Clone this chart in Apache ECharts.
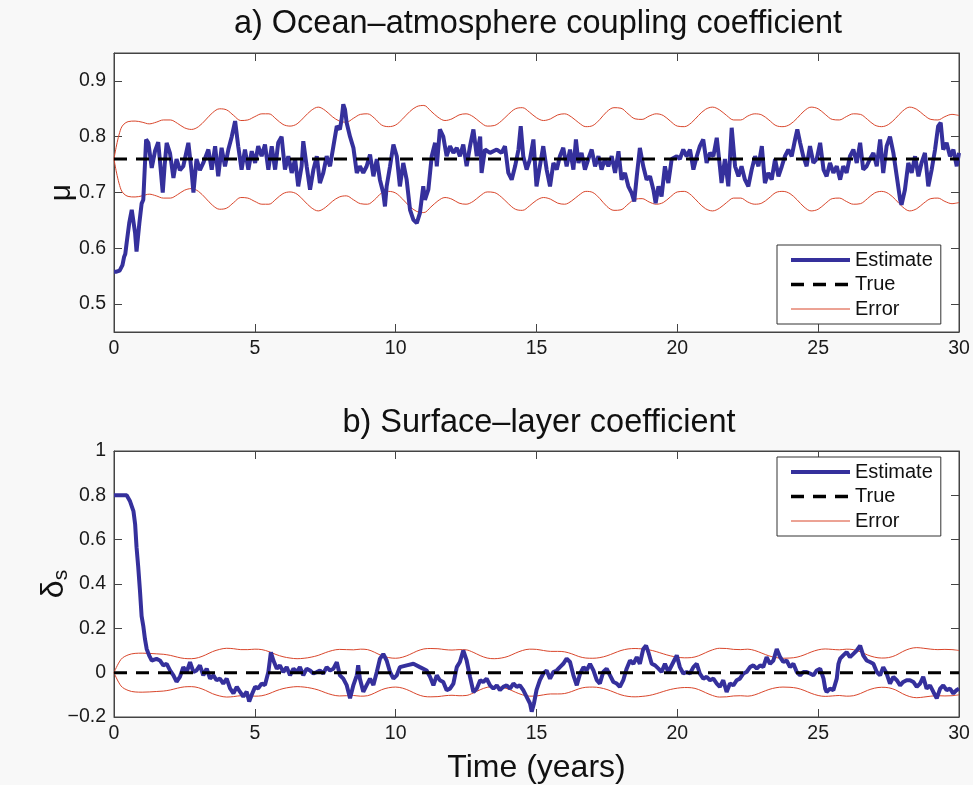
<!DOCTYPE html>
<html>
<head>
<meta charset="utf-8">
<script src="https://cdn.jsdelivr.net/npm/echarts@6/dist/echarts.min.js"></script>
<style>
html,body{margin:0;padding:0;background:#f8f8f8;}
#c{width:973px;height:785px;}
</style>
</head>
<body>
<div id="c"></div>
<script>
// ---------- Data ----------
const titleA = 'a) Ocean–atmosphere coupling coefficient';
const titleB = 'b) Surface–layer coefficient';
const xTicks = [0, 5, 10, 15, 20, 25, 30];
const muTicks = [0.5, 0.6, 0.7, 0.8, 0.9];
const trueMu = 0.76;
const trueDelta = 0;

// Estimate of mu: [time (years), value]
const estMu = [
[0,0.558],[0.09,0.558],[0.2,0.56],[0.3,0.57],[0.36,0.585],[0.4,0.59],[0.45,0.61],[0.54,0.645],[0.63,0.669],[0.75,0.627],
[0.8,0.594],[0.9,0.645],[0.98,0.68],[1.04,0.687],[1.14,0.795],[1.22,0.789],[1.34,0.744],[1.46,0.775],[1.57,0.79],[1.66,0.74],
[1.73,0.70],[1.8,0.75],[1.87,0.789],[1.99,0.77],[2.11,0.726],[2.22,0.76],[2.34,0.74],[2.46,0.747],[2.64,0.789],[2.76,0.735],
[2.82,0.70],[2.93,0.76],[3.05,0.74],[3.17,0.753],[3.35,0.777],[3.47,0.741],[3.59,0.783],[3.7,0.729],[3.82,0.78],[3.94,0.747],
[4.06,0.777],[4.18,0.80],[4.3,0.828],[4.41,0.783],[4.53,0.741],[4.65,0.777],[4.77,0.741],[4.89,0.774],[5.01,0.753],[5.12,0.783],
[5.24,0.765],[5.36,0.786],[5.48,0.741],[5.6,0.783],[5.72,0.741],[5.83,0.789],[5.95,0.80],[6.07,0.741],[6.19,0.765],[6.31,0.735],
[6.43,0.76],[6.54,0.711],[6.66,0.747],[6.72,0.792],[6.84,0.747],[6.96,0.705],[7.08,0.741],[7.2,0.765],[7.31,0.717],[7.43,0.735],
[7.55,0.765],[7.67,0.747],[7.79,0.783],[7.91,0.819],[8.02,0.813],[8.08,0.831],[8.14,0.858],[8.2,0.849],[8.26,0.825],[8.38,0.80],
[8.5,0.78],[8.62,0.735],[8.73,0.747],[8.85,0.735],[8.97,0.747],[9.09,0.768],[9.21,0.729],[9.33,0.76],[9.44,0.723],[9.56,0.699],
[9.62,0.675],[9.68,0.711],[9.8,0.747],[9.92,0.786],[10.04,0.765],[10.15,0.711],[10.27,0.753],[10.39,0.723],[10.51,0.669],[10.63,0.651],
[10.75,0.645],[10.86,0.663],[10.98,0.711],[11.04,0.687],[11.16,0.705],[11.28,0.765],[11.4,0.789],[11.46,0.747],[11.57,0.813],[11.69,0.80],
[11.81,0.765],[11.93,0.783],[12.05,0.771],[12.17,0.78],[12.28,0.765],[12.4,0.786],[12.52,0.747],[12.64,0.783],[12.76,0.813],[12.88,0.765],
[13.0,0.80],[13.05,0.735],[13.17,0.777],[13.35,0.771],[13.59,0.777],[13.76,0.771],[13.88,0.783],[14.0,0.735],[14.12,0.723],[14.24,0.747],
[14.36,0.777],[14.44,0.819],[14.53,0.765],[14.65,0.741],[14.77,0.76],[14.89,0.795],[15.0,0.711],[15.12,0.747],[15.24,0.783],[15.36,0.741],
[15.48,0.711],[15.6,0.753],[15.72,0.741],[15.83,0.765],[15.95,0.78],[16.07,0.747],[16.19,0.777],[16.31,0.741],[16.4,0.795],[16.49,0.753],
[16.6,0.771],[16.72,0.741],[16.84,0.76],[16.96,0.777],[17.08,0.747],[17.2,0.765],[17.31,0.741],[17.43,0.76],[17.55,0.747],[17.67,0.765],
[17.79,0.735],[17.91,0.774],[18.02,0.723],[18.14,0.735],[18.26,0.711],[18.38,0.699],[18.47,0.684],[18.56,0.729],[18.67,0.78],[18.79,0.747],
[18.91,0.723],[19.03,0.729],[19.15,0.705],[19.23,0.681],[19.33,0.711],[19.44,0.693],[19.56,0.747],[19.68,0.717],[19.8,0.76],[19.98,0.765],
[20.09,0.76],[20.21,0.777],[20.33,0.765],[20.45,0.777],[20.57,0.741],[20.69,0.765],[20.8,0.783],[20.92,0.795],[21.04,0.753],[21.16,0.771],
[21.28,0.765],[21.4,0.798],[21.51,0.747],[21.57,0.717],[21.69,0.76],[21.81,0.711],[21.93,0.816],[22.05,0.747],[22.17,0.729],[22.28,0.747],
[22.4,0.723],[22.52,0.711],[22.64,0.741],[22.76,0.765],[22.88,0.747],[23.0,0.783],[23.11,0.717],[23.23,0.735],[23.35,0.723],[23.47,0.76],
[23.59,0.729],[23.71,0.747],[23.82,0.765],[23.94,0.777],[24.06,0.765],[24.18,0.795],[24.26,0.813],[24.36,0.789],[24.47,0.765],[24.59,0.747],
[24.71,0.783],[24.83,0.753],[24.95,0.76],[25.07,0.789],[25.19,0.741],[25.3,0.729],[25.42,0.753],[25.54,0.735],[25.66,0.747],[25.78,0.723],
[25.89,0.747],[26.01,0.735],[26.13,0.765],[26.25,0.777],[26.37,0.753],[26.49,0.789],[26.6,0.741],[26.72,0.747],[26.84,0.76],[26.96,0.771],
[27.08,0.747],[27.2,0.795],[27.31,0.735],[27.43,0.783],[27.55,0.80],[27.67,0.771],[27.79,0.729],[27.91,0.687],[27.96,0.678],[28.08,0.705],
[28.2,0.753],[28.32,0.735],[28.44,0.765],[28.56,0.729],[28.67,0.753],[28.79,0.771],[28.91,0.711],[29.03,0.741],[29.15,0.777],[29.26,0.819],
[29.35,0.825],[29.44,0.777],[29.56,0.789],[29.68,0.765],[29.8,0.777],[29.92,0.747],[30.0,0.771]
];

// Error band sample times (years)
const errTime = [
0,0.25,0.5,0.75,1,1.25,1.5,1.75,2,2.25,2.5,2.75,3,3.25,3.5,3.75,4,4.25,4.5,4.75,
5,5.25,5.5,5.75,6,6.25,6.5,6.75,7,7.25,7.5,7.75,8,8.25,8.5,8.75,9,9.25,9.5,9.75,
10,10.25,10.5,10.75,11,11.25,11.5,11.75,12,12.25,12.5,12.75,13,13.25,13.5,13.75,14,14.25,14.5,14.75,
15,15.25,15.5,15.75,16,16.25,16.5,16.75,17,17.25,17.5,17.75,18,18.25,18.5,18.75,19,19.25,19.5,19.75,
20,20.25,20.5,20.75,21,21.25,21.5,21.75,22,22.25,22.5,22.75,23,23.25,23.5,23.75,24,24.25,24.5,24.75,
25,25.25,25.5,25.75,26,26.25,26.5,26.75,27,27.25,27.5,27.75,28,28.25,28.5,28.75,29,29.25,29.5,29.75,30
];

const errMuUpper = [
0.760,0.815,0.827,0.828,0.826,0.823,0.826,0.830,0.830,0.824,0.816,0.813,0.818,0.830,0.843,0.850,
0.848,0.838,0.829,0.830,0.836,0.841,0.841,0.832,0.822,0.819,0.823,0.835,0.847,0.853,0.847,0.836,
0.828,0.826,0.833,0.840,0.841,0.833,0.821,0.818,0.821,0.832,0.845,0.854,0.856,0.846,0.835,0.829,
0.832,0.839,0.841,0.836,0.826,0.819,0.820,0.828,0.840,0.850,0.852,0.844,0.834,0.829,0.832,0.839,
0.841,0.835,0.825,0.818,0.820,0.831,0.845,0.852,0.851,0.841,0.832,0.831,0.837,0.841,0.838,0.828,
0.819,0.818,0.825,0.838,0.849,0.853,0.848,0.838,0.830,0.830,0.837,0.841,0.839,0.830,0.820,0.818,
0.822,0.833,0.846,0.853,0.850,0.840,0.831,0.830,0.836,0.841,0.840,0.831,0.821,0.818,0.822,0.833,
0.846,0.853,0.849,0.839,0.831,0.830,0.836,0.840,0.838
];
const errMuLower = [
0.760,0.705,0.693,0.692,0.694,0.697,0.694,0.690,0.690,0.696,0.704,0.707,0.702,0.690,0.677,0.670,
0.672,0.682,0.691,0.690,0.684,0.679,0.679,0.688,0.698,0.701,0.697,0.685,0.673,0.667,0.673,0.684,
0.692,0.694,0.687,0.680,0.679,0.687,0.699,0.702,0.699,0.688,0.675,0.666,0.664,0.674,0.685,0.691,
0.688,0.681,0.679,0.684,0.694,0.701,0.700,0.692,0.680,0.670,0.668,0.676,0.686,0.691,0.688,0.681,
0.679,0.685,0.695,0.702,0.700,0.689,0.675,0.668,0.669,0.679,0.688,0.689,0.683,0.679,0.682,0.692,
0.701,0.702,0.695,0.682,0.671,0.667,0.672,0.682,0.690,0.690,0.683,0.679,0.681,0.690,0.700,0.702,
0.698,0.687,0.674,0.667,0.670,0.680,0.689,0.690,0.684,0.679,0.680,0.689,0.699,0.702,0.698,0.687,
0.674,0.667,0.671,0.681,0.689,0.690,0.684,0.680,0.682
];

// Estimate of delta_s: [time (years), value]
const estDelta = [
[0,0.80],[0.21,0.80],[0.45,0.80],[0.57,0.773],[0.69,0.729],[0.75,0.67],[0.8,0.566],[0.86,0.477],[0.92,0.373],[0.98,0.255],
[1.04,0.21],[1.1,0.151],[1.16,0.107],[1.25,0.077],[1.34,0.055],[1.51,0.062],[1.63,0.055],[1.75,0.033],[1.87,0.04],[1.99,0.01],
[2.11,-0.012],[2.22,-0.041],[2.34,-0.019],[2.46,0.025],[2.58,0.003],[2.7,0.047],[2.82,0.003],[2.93,0.01],[3.05,0.033],[3.17,-0.012],
[3.29,0.018],[3.41,-0.027],[3.53,-0.012],[3.64,-0.034],[3.76,-0.027],[3.88,-0.049],[4.0,-0.027],[4.12,-0.071],[4.24,-0.093],[4.36,-0.064],
[4.47,-0.086],[4.59,-0.108],[4.71,-0.086],[4.8,-0.13],[4.89,-0.1],[5.01,-0.064],[5.12,-0.071],[5.24,-0.049],[5.36,-0.056],[5.48,0.003],
[5.57,0.092],[5.66,0.055],[5.78,0.018],[5.89,0.033],[6.01,0.003],[6.13,0.025],[6.25,-0.012],[6.37,0.018],[6.49,0.003],[6.6,0.025],
[6.72,-0.012],[6.84,0.018],[6.96,0.01],[7.08,-0.004],[7.2,0.003],[7.31,0.01],[7.43,-0.004],[7.55,0.025],[7.67,0.01],[7.79,0.018],
[7.91,0.047],[8.02,-0.012],[8.14,-0.027],[8.26,-0.056],[8.38,-0.116],[8.5,-0.056],[8.62,-0.012],[8.67,0.033],[8.73,-0.027],[8.85,-0.086],
[8.97,-0.056],[9.09,-0.027],[9.21,-0.056],[9.33,0.003],[9.44,0.062],[9.56,0.084],[9.68,0.055],[9.8,0.003],[9.92,-0.027],[10.04,-0.012],
[10.15,0.025],[10.39,0.033],[10.63,0.04],[10.86,0.025],[11.1,0.01],[11.22,-0.019],[11.34,-0.057],[11.46,-0.012],[11.57,-0.034],[11.69,-0.042],
[11.81,-0.079],[11.93,-0.072],[12.05,-0.049],[12.17,0.025],[12.28,0.048],[12.4,0.1],[12.52,0.055],[12.64,-0.019],[12.76,-0.087],[12.88,-0.072],
[13.0,-0.034],[13.11,-0.042],[13.23,-0.027],[13.35,-0.057],[13.47,-0.072],[13.59,-0.057],[13.7,-0.079],[13.82,-0.064],[13.94,-0.057],[14.06,-0.072],
[14.18,-0.049],[14.3,-0.064],[14.41,-0.057],[14.53,-0.079],[14.65,-0.109],[14.77,-0.139],[14.83,-0.176],[14.91,-0.139],[15.0,-0.079],[15.12,-0.034],
[15.24,-0.004],[15.36,0.01],[15.48,-0.027],[15.6,0.003],[15.72,0.01],[15.83,0.025],[15.95,0.04],[16.07,0.063],[16.19,0.048],[16.31,-0.012],
[16.43,-0.057],[16.55,-0.004],[16.67,0.025],[16.78,0.01],[16.9,0.04],[17.02,0.01],[17.14,-0.034],[17.25,-0.049],[17.37,0.003],[17.49,0.018],
[17.61,-0.012],[17.73,-0.042],[17.85,-0.049],[17.96,-0.064],[18.08,-0.034],[18.2,0.018],[18.32,0.055],[18.44,0.04],[18.56,0.07],[18.67,0.04],
[18.79,0.107],[18.89,0.122],[18.97,0.093],[19.09,0.04],[19.21,0.033],[19.33,0.018],[19.44,0.003],[19.56,0.04],[19.68,0.003],[19.86,0.048],
[19.98,0.078],[20.09,0.025],[20.21,-0.004],[20.33,0.003],[20.45,-0.004],[20.57,0.025],[20.69,0.04],[20.8,-0.004],[20.92,-0.027],[21.04,-0.019],
[21.16,-0.034],[21.28,-0.027],[21.4,-0.049],[21.51,-0.064],[21.63,-0.034],[21.75,-0.087],[21.87,-0.049],[21.99,-0.057],[22.11,-0.034],[22.22,-0.027],
[22.34,-0.004],[22.46,0.003],[22.58,0.025],[22.7,0.033],[22.82,0.018],[22.94,0.033],[23.05,0.025],[23.17,0.07],[23.29,0.04],[23.41,0.055],
[23.53,0.107],[23.65,0.07],[23.76,0.048],[23.88,0.055],[24.0,0.025],[24.12,0.04],[24.24,0.003],[24.36,-0.012],[24.47,0.003],[24.59,0.003],
[24.71,-0.004],[24.83,-0.012],[24.95,0.01],[25.07,0.018],[25.19,-0.027],[25.25,-0.072],[25.3,-0.087],[25.42,-0.072],[25.54,-0.079],[25.66,-0.027],
[25.72,0.04],[25.78,0.063],[25.89,0.078],[26.01,0.093],[26.13,0.07],[26.25,0.085],[26.37,0.1],[26.49,0.122],[26.54,0.115],[26.6,0.078],
[26.72,0.055],[26.84,0.048],[26.96,0.04],[27.08,0.003],[27.2,-0.012],[27.31,0.025],[27.43,-0.004],[27.55,-0.049],[27.67,-0.019],[27.79,-0.034],
[27.91,-0.057],[28.02,-0.042],[28.14,-0.034],[28.26,-0.034],[28.38,-0.042],[28.5,-0.064],[28.62,-0.049],[28.73,-0.019],[28.85,-0.072],[28.97,-0.057],
[29.09,-0.087],[29.21,-0.116],[29.33,-0.072],[29.44,-0.057],[29.56,-0.079],[29.68,-0.072],[29.8,-0.094],[29.91,-0.079],[30.0,-0.072]
];

const errDeltaUpper = [
0.000,0.060,0.080,0.087,0.088,0.087,0.085,0.083,0.078,0.070,0.064,0.063,0.068,0.080,0.095,0.105,
0.110,0.108,0.104,0.104,0.106,0.104,0.095,0.082,0.072,0.066,0.063,0.065,0.070,0.078,0.090,0.100,
0.105,0.104,0.103,0.106,0.104,0.092,0.077,0.068,0.065,0.070,0.082,0.097,0.107,0.109,0.108,0.104,
0.102,0.104,0.103,0.092,0.077,0.066,0.063,0.066,0.074,0.088,0.100,0.106,0.105,0.100,0.096,0.096,
0.094,0.085,0.073,0.066,0.065,0.068,0.076,0.088,0.100,0.107,0.109,0.107,0.103,0.095,0.085,0.076,
0.070,0.067,0.068,0.076,0.090,0.103,0.110,0.109,0.105,0.104,0.106,0.100,0.088,0.076,0.068,0.065,
0.066,0.070,0.080,0.093,0.103,0.107,0.105,0.103,0.106,0.104,0.094,0.080,0.070,0.066,0.068,0.078,
0.095,0.108,0.113,0.110,0.106,0.104,0.105,0.104,0.100
];
const errDeltaLower = [
0.000,-0.060,-0.080,-0.087,-0.088,-0.087,-0.085,-0.083,-0.078,-0.070,-0.064,-0.063,-0.068,-0.080,-0.095,-0.105,
-0.110,-0.108,-0.104,-0.104,-0.106,-0.104,-0.095,-0.082,-0.072,-0.066,-0.063,-0.065,-0.070,-0.078,-0.090,-0.100,
-0.105,-0.104,-0.103,-0.106,-0.104,-0.092,-0.077,-0.068,-0.065,-0.070,-0.082,-0.097,-0.107,-0.109,-0.108,-0.104,
-0.102,-0.104,-0.103,-0.092,-0.077,-0.066,-0.063,-0.066,-0.074,-0.088,-0.100,-0.106,-0.105,-0.100,-0.096,-0.096,
-0.094,-0.085,-0.073,-0.066,-0.065,-0.068,-0.076,-0.088,-0.100,-0.107,-0.109,-0.107,-0.103,-0.095,-0.085,-0.076,
-0.070,-0.067,-0.068,-0.076,-0.090,-0.103,-0.110,-0.109,-0.105,-0.104,-0.106,-0.100,-0.088,-0.076,-0.068,-0.065,
-0.066,-0.070,-0.080,-0.093,-0.103,-0.107,-0.105,-0.103,-0.106,-0.104,-0.094,-0.080,-0.070,-0.066,-0.068,-0.078,
-0.095,-0.108,-0.113,-0.110,-0.106,-0.104,-0.105,-0.104,-0.100
];

// ---------- Chart ----------
const FONT = '"Liberation Sans", Arial, Helvetica, sans-serif';
const AXC = '#444';
const EST_COLOR = '#35309c';
const ERR_COLOR = '#d9462b';

function pairs(xs, ys) { return xs.map((x, i) => [x, ys[i]]); }
function fmtNum(v) { return String(v).replace('-', '\u2212'); }

const tickStyle = { show: true, inside: true, length: 8, lineStyle: { color: AXC, width: 1 } };
const lineStyleAx = { show: true, onZero: false, lineStyle: { color: AXC, width: 1 } };
const labelStyle = { color: '#1a1a1a', fontSize: 19.5, fontFamily: FONT };

function xAxisPair(grid, withName) {
  return [
    { type: 'value', gridIndex: grid, position: 'bottom', min: 0, max: 30, interval: 5,
      axisLine: lineStyleAx, axisTick: tickStyle, splitLine: { show: false },
      axisLabel: Object.assign({ margin: 7 }, labelStyle),
      name: withName ? 'Time (years)' : '', nameLocation: 'middle', nameGap: 35,
      nameTextStyle: { fontSize: 32, color: '#111', fontFamily: FONT } },
    { type: 'value', gridIndex: grid, position: 'top', min: 0, max: 30, interval: 5,
      axisLine: lineStyleAx, axisTick: tickStyle, splitLine: { show: false },
      axisLabel: { show: false } }
  ];
}

const legendItems = [
  { name: 'Estimate', lineStyle: { width: 4 } },
  { name: 'True', lineStyle: { width: 3.5 } },
  { name: 'Error', lineStyle: { width: 1 } }
];
function legendAt(top) {
  return { show: true, orient: 'vertical', left: 777, top: top, selectedMode: false,
    data: legendItems,
    itemWidth: 59, itemHeight: 14, itemGap: 4.5, padding: [5, 8, 5, 12],
    itemStyle: { color: 'rgba(0,0,0,0)', borderWidth: 0, opacity: 0 },
    borderColor: '#333', borderWidth: 1, backgroundColor: '#fff',
    textStyle: { fontSize: 20, color: '#111', fontFamily: FONT } };
}

const option = {
  animation: false,
  backgroundColor: '#f8f8f8',
  textStyle: { fontFamily: FONT },
  title: [
    { text: titleA, left: 533, top: 3, textAlign: 'center',
      textStyle: { fontSize: 32.5, fontWeight: 'normal', color: '#111', fontFamily: FONT } },
    { text: titleB, left: 534, top: 402, textAlign: 'center',
      textStyle: { fontSize: 32.5, fontWeight: 'normal', color: '#111', fontFamily: FONT } }
  ],
  legend: [legendAt(245), legendAt(457)],
  grid: [
    { left: 114, top: 53, width: 845, height: 279, show: true, backgroundColor: '#fff', borderColor: AXC, borderWidth: 1 },
    { left: 114, top: 451, width: 845, height: 268, show: true, backgroundColor: '#fff', borderColor: AXC, borderWidth: 1 }
  ],
  xAxis: [].concat(xAxisPair(0, false), xAxisPair(1, true)),
  yAxis: [
    { type: 'value', gridIndex: 0, position: 'left', min: 0.45, max: 0.95,
      axisLine: lineStyleAx, splitLine: { show: false },
      axisTick: Object.assign({ customValues: muTicks }, tickStyle),
      axisLabel: Object.assign({ customValues: muTicks, margin: 8, formatter: v => v.toFixed(1) }, labelStyle),
      name: 'μ', nameLocation: 'middle', nameGap: 37, nameMoveOverlap: false,
      nameTextStyle: { fontSize: 30, color: '#111', fontFamily: FONT } },
    { type: 'value', gridIndex: 0, position: 'right', min: 0.45, max: 0.95,
      axisLine: lineStyleAx, splitLine: { show: false },
      axisTick: Object.assign({ customValues: muTicks }, tickStyle),
      axisLabel: { show: false } },
    { type: 'value', gridIndex: 1, position: 'left', min: -0.2, max: 1, interval: 0.2,
      axisLine: lineStyleAx, splitLine: { show: false }, axisTick: tickStyle,
      axisLabel: Object.assign({ margin: 8, formatter: v => fmtNum(Math.round(v * 10) / 10) }, labelStyle),
      name: '{d|δ}{s|s}', nameLocation: 'middle', nameGap: 42, nameMoveOverlap: false,
      nameTextStyle: { color: '#111', fontFamily: FONT,
        rich: { d: { fontSize: 32, fontFamily: FONT, color: '#111' },
                s: { fontSize: 21, fontFamily: FONT, color: '#111', verticalAlign: 'bottom', padding: [14, 0, 0, 0] } } } },
    { type: 'value', gridIndex: 1, position: 'right', min: -0.2, max: 1, interval: 0.2,
      axisLine: lineStyleAx, splitLine: { show: false }, axisTick: tickStyle,
      axisLabel: { show: false } }
  ],
  series: [
    // Panel a
    { name: 'Error', type: 'line', xAxisIndex: 0, yAxisIndex: 0, data: pairs(errTime, errMuUpper),
      showSymbol: false, symbol: 'none', smooth: 0.35, lineStyle: { color: ERR_COLOR, width: 1 }, itemStyle: { color: ERR_COLOR }, z: 2 },
    { name: 'Error', type: 'line', xAxisIndex: 0, yAxisIndex: 0, data: pairs(errTime, errMuLower),
      showSymbol: false, symbol: 'none', smooth: 0.35, lineStyle: { color: ERR_COLOR, width: 1 }, itemStyle: { color: ERR_COLOR }, z: 2 },
    { name: 'Estimate', type: 'line', xAxisIndex: 0, yAxisIndex: 0, data: estMu,
      showSymbol: false, symbol: 'none', lineStyle: { color: EST_COLOR, width: 4 }, itemStyle: { color: EST_COLOR }, z: 3 },
    { name: 'True', type: 'line', xAxisIndex: 0, yAxisIndex: 0, data: [[0, trueMu], [30, trueMu]],
      showSymbol: false, symbol: 'none', lineStyle: { color: '#000', width: 3, type: [13, 9] }, itemStyle: { color: '#000' }, z: 4 },
    // Panel b
    { name: 'Error', type: 'line', xAxisIndex: 2, yAxisIndex: 2, data: pairs(errTime, errDeltaUpper),
      showSymbol: false, symbol: 'none', smooth: 0.35, lineStyle: { color: ERR_COLOR, width: 1 }, itemStyle: { color: ERR_COLOR }, z: 2 },
    { name: 'Error', type: 'line', xAxisIndex: 2, yAxisIndex: 2, data: pairs(errTime, errDeltaLower),
      showSymbol: false, symbol: 'none', smooth: 0.35, lineStyle: { color: ERR_COLOR, width: 1 }, itemStyle: { color: ERR_COLOR }, z: 2 },
    { name: 'Estimate', type: 'line', xAxisIndex: 2, yAxisIndex: 2, data: estDelta,
      showSymbol: false, symbol: 'none', lineStyle: { color: EST_COLOR, width: 4 }, itemStyle: { color: EST_COLOR }, z: 3 },
    { name: 'True', type: 'line', xAxisIndex: 2, yAxisIndex: 2, data: [[0, trueDelta], [30, trueDelta]],
      showSymbol: false, symbol: 'none', lineStyle: { color: '#000', width: 3, type: [13, 9] }, itemStyle: { color: '#000' }, z: 4 }
  ]
};

const chart = echarts.init(document.getElementById('c'), null, { renderer: 'canvas' });
chart.setOption(option);
</script>
</body>
</html>
